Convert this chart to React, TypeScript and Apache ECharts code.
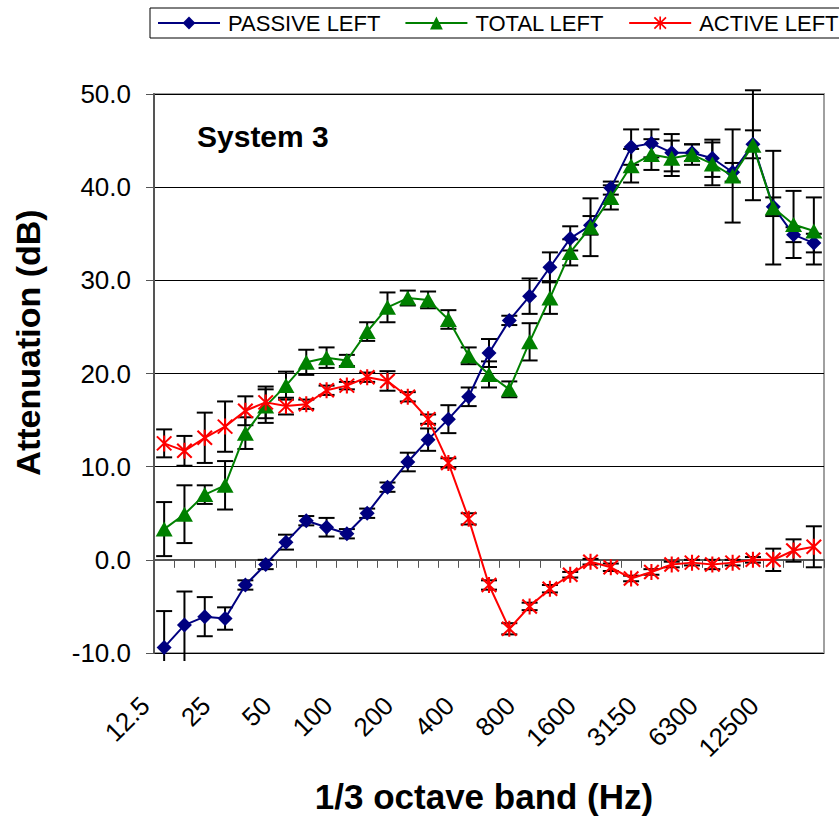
import React, { useEffect, useRef } from "react";
import * as echarts from "echarts";

const categories = [
  "12.5", "16", "20", "25", "31.5", "40", "50", "63", "80", "100", "125",
  "160", "200", "250", "315", "400", "500", "630", "800", "1000", "1250",
  "1600", "2000", "2500", "3150", "4000", "5000", "6300", "8000", "10000",
  "12500", "16000", "20000",
];

const passive = [
  -9.4, -7.0, -6.1, -6.3, -2.7, -0.5, 1.9, 4.2, 3.5, 2.8, 5.0, 7.8, 10.5,
  12.9, 15.1, 17.5, 22.2, 25.7, 28.3, 31.4, 34.5, 35.9, 39.9, 44.3, 44.7,
  43.7, 43.7, 43.1, 41.6, 44.6, 37.9, 34.9, 34.0,
];
const passiveErr = [
  3.9, 3.6, 2.1, 1.2, 0.5, 0.5, 0.8, 0.5, 1.0, 0.5, 0.5, 0.5, 1.0, 1.2, 1.5,
  1.0, 1.5, 0.5, 1.9, 1.6, 1.3, 1.0, 0.7, 1.9, 1.5, 2.0, 0.9, 2.0, 1.0, 1.5,
  1.0, 0.8, 1.0,
];

const total = [
  3.3, 4.9, 7.0, 8.0, 13.6, 16.5, 18.7, 21.2, 21.7, 21.4, 24.5, 27.1, 28.1,
  27.9, 25.8, 21.9, 19.9, 18.3, 23.4, 28.1, 33.0, 35.7, 38.9, 42.3, 43.5,
  43.1, 43.5, 42.5, 41.2, 44.5, 37.8, 36.0, 35.3,
];
const totalErr = [
  2.9, 3.1, 1.0, 2.6, 1.7, 1.8, 1.5, 1.35, 1.1, 0.6, 1.0, 1.6, 0.8, 0.9, 1.0,
  0.9, 1.4, 0.85, 2.0, 1.7, 1.4, 3.1, 1.3, 1.8, 1.65, 1.9, 1.1, 2.3, 5.0, 5.9,
  6.1, 3.6, 3.6,
];

const active = [
  12.5, 11.7, 13.1, 14.3, 16.0, 16.9, 16.5, 16.7, 18.2, 18.7, 19.6, 19.2,
  17.5, 15.1, 10.4, 4.4, -2.7, -7.4, -5.0, -3.1, -1.6, -0.2, -0.8, -2.0,
  -1.3, -0.5, -0.3, -0.5, -0.3, 0.0, 0.0, 1.0, 1.4,
];
const activeErr = [
  1.5, 1.6, 2.7, 2.7, 1.55, 1.7, 0.9, 0.5, 0.5, 0.4, 0.5, 1.05, 0.5, 0.5, 0.5,
  0.6, 0.5, 0.6, 0.4, 0.4, 0.3, 0.3, 0.4, 0.3, 0.3, 0.3, 0.3, 0.5, 0.3, 0.3,
  1.2, 1.2, 2.2,
];

const seriesNames = ["PASSIVE LEFT", "TOTAL LEFT", "ACTIVE LEFT"];
const yTicks = { min: -10, max: 50, interval: 10 };

const FONT = "'Liberation Sans', Arial, Helvetica, sans-serif";

const ASTERISK =
  "path://M7 0L9 0L9 16L7 16Z M1.71 0.29L15.71 14.29L14.29 15.71L0.29 1.71Z M14.29 0.29L15.71 1.71L1.71 15.71L0.29 14.29Z";

function errData(vals: number[], errs: number[]) {
  return vals.map((v, i) => [i, v - errs[i], v + errs[i]]);
}

function errSeries(vals: number[], errs: number[]) {
  return {
    type: "custom",
    silent: true,
    z: 1,
    encode: { x: 0, y: [1, 2] },
    data: errData(vals, errs),
    renderItem: (params: any, api: any) => {
      const x = api.value(0);
      const loVal = api.value(1);
      const clipped = loVal < yTicks.min;
      const lo = api.coord([x, clipped ? yTicks.min : loVal]);
      if (clipped) lo[1] += 8;
      const hi = api.coord([x, api.value(2)]);
      const hw = 8;
      const style = { stroke: "#000", lineWidth: 2 };
      const children: any[] = [
        { type: "line", shape: { x1: hi[0], y1: hi[1], x2: lo[0], y2: lo[1] }, style },
        { type: "line", shape: { x1: hi[0] - hw, y1: hi[1], x2: hi[0] + hw, y2: hi[1] }, style },
      ];
      if (!clipped) {
        children.push({ type: "line", shape: { x1: lo[0] - hw, y1: lo[1], x2: lo[0] + hw, y2: lo[1] }, style });
      }
      return { type: "group", children };
    },
  };
}

export default function App() {
  const ref = useRef<HTMLDivElement>(null);
  useEffect(() => {
    if (!ref.current) return;
    const chart = echarts.init(ref.current, null, { renderer: "svg" });
    chart.setOption({
      animation: false,
      backgroundColor: "#fff",
      textStyle: { fontFamily: FONT },
      title: {
        text: "System 3",
        left: 197,
        top: 121,
        padding: 0,
        textStyle: { fontFamily: FONT, fontSize: 30, fontWeight: "bold", color: "#000" },
      },
      legend: {
        data: seriesNames,
        left: 150,
        top: 8,
        width: 1200,
        orient: "horizontal",
        padding: [4, 8, 4, 7],
        itemGap: 24,
        itemWidth: 62,
        itemHeight: 16,
        borderColor: "#000",
        borderWidth: 1,
        textStyle: { fontFamily: FONT, fontSize: 22, color: "#000", padding: [0, 0, 0, 3] },
      },
      grid: {
        left: 154,
        right: 15,
        top: 94,
        bottom: 168,
        show: true,
        borderColor: "#a0a0a0",
        borderWidth: 2,
        backgroundColor: "#fff",
      },
      xAxis: {
        type: "category",
        data: categories,
        boundaryGap: true,
        name: "1/3 octave band (Hz)",
        nameLocation: "middle",
        nameGap: 126,
        nameTextStyle: {
          fontFamily: FONT,
          fontSize: 35,
          fontWeight: "bold",
          color: "#000",
          padding: [0, 10, 0, 0],
        },
        axisLine: { lineStyle: { color: "#555", width: 2 } },
        axisTick: { show: true, interval: 0, length: 8, lineStyle: { color: "#555", width: 1 } },
        axisLabel: {
          interval: 2,
          rotate: 45,
          margin: 29,
          padding: [0, 27, 0, 0],
          fontFamily: FONT,
          fontSize: 26,
          color: "#000",
        },
        splitLine: { show: false },
      },
      yAxis: {
        type: "value",
        min: yTicks.min,
        max: yTicks.max,
        interval: yTicks.interval,
        name: "Attenuation (dB)",
        nameLocation: "middle",
        nameRotate: 90,
        nameGap: 109,
        nameTextStyle: {
          fontFamily: FONT,
          fontSize: 34,
          fontWeight: "bold",
          color: "#000",
          padding: [0, 0, 0, 62],
        },
        axisLine: { show: true, lineStyle: { color: "#555", width: 2 } },
        axisTick: { show: true, length: 8, lineStyle: { color: "#555", width: 1 } },
        axisLabel: {
          margin: 23,
          fontFamily: FONT,
          fontSize: 26,
          color: "#000",
          formatter: (v: number) => v.toFixed(1),
        },
        splitLine: { show: true, lineStyle: { color: "#000", width: 1 } },
      },
      series: [
        errSeries(passive, passiveErr),
        errSeries(total, totalErr),
        errSeries(active, activeErr),
        {
          name: seriesNames[0],
          type: "line",
          z: 3,
          data: passive,
          symbol: "diamond",
          symbolSize: 15,
          showAllSymbol: true,
          color: "#000080",
          lineStyle: { color: "#000080", width: 2 },
          itemStyle: { color: "#000080" },
        },
        {
          name: seriesNames[1],
          type: "line",
          z: 4,
          data: total,
          symbol: "triangle",
          symbolSize: [17, 15],
          showAllSymbol: true,
          color: "#008000",
          lineStyle: { color: "#008000", width: 2 },
          itemStyle: { color: "#008000" },
        },
        {
          name: seriesNames[2],
          type: "line",
          z: 5,
          data: active,
          symbol: ASTERISK,
          symbolSize: 16,
          showAllSymbol: true,
          color: "#ff0000",
          lineStyle: { color: "#ff0000", width: 2 },
          itemStyle: { color: "#ff0000" },
        },
      ],
    });
    return () => chart.dispose();
  }, []);
  return (
    <div
      ref={ref}
      style={{ position: "absolute", left: 0, top: 0, width: 839, height: 821 }}
    />
  );
}
